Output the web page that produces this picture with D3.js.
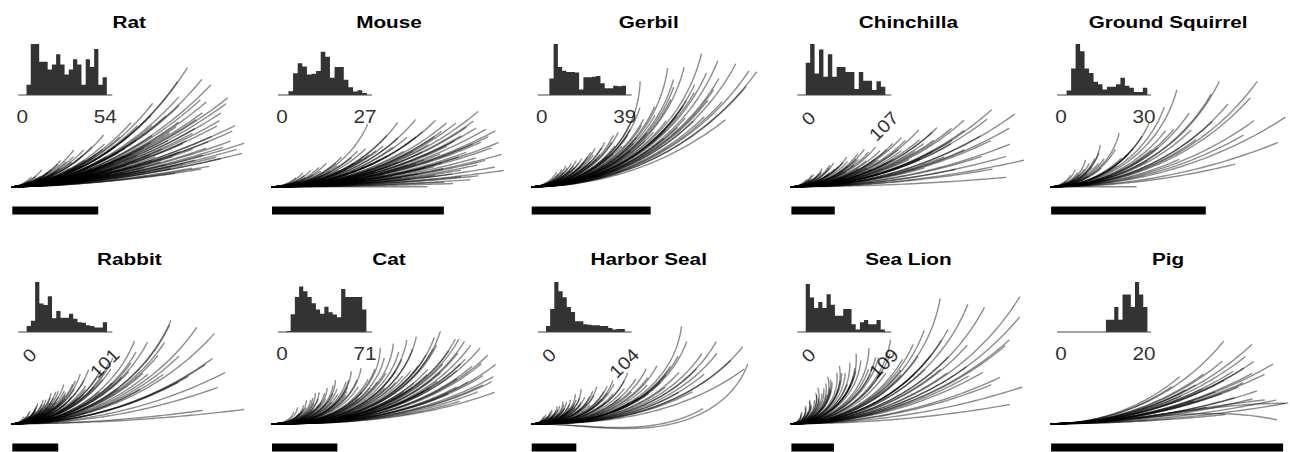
<!DOCTYPE html>
<html>
<head>
<meta charset="utf-8">
<script src="https://cdn.jsdelivr.net/npm/d3@7"></script>
<style>
  html, body { margin: 0; background: #fff; }
  svg { display: block; }
</style>
</head>
<body>
<svg id="chart" width="1290" height="452"></svg>
<script>
// ---- data -------------------------------------------------------------
const species = ["Rat", "Mouse", "Gerbil", "Chinchilla", "Ground Squirrel",
                 "Rabbit", "Cat", "Harbor Seal", "Sea Lion", "Pig"];
// longest whisker length per species (histogram range and panel width)
const lengthMax = [54, 27, 39, 107, 30, 101, 71, 104, 109, 20];
const scaleBarLength = 20;

// length histograms: first bin edge, bin width, counts
const binStart = [2.75, 2.1, 3.6, 5.6, 2.0, 5.3, 3.8, 5.4, 5.7, 10.8];
const binWidth = [2.75, 1.5, 2.0, 5.7, 1.62, 5.15, 3.6, 5.2, 5.47, 1.0];
const ratCounts = [4, 20, 20, 13, 13, 10, 12, 16, 12, 8, 10, 14, 12, 4, 14, 11, 18, 4, 7];
const mouseCounts = [1.5, 8.5, 12.5, 11.2, 8, 8.3, 9.4, 17, 15, 6.8, 11, 11, 6, 3, 1.4, 1.9, 0.8];
const gerbilCounts = [6.5, 20, 11, 9.5, 9, 9, 8.8, 2.2, 7, 7, 7.2, 7.5, 4.6, 2.6, 2.6, 3.6, 3.4, 3.6];
const chinchillaCounts = [12.6, 20, 8.4, 17.8, 7.2, 16, 7.2, 11, 11, 9, 9, 2.4, 9, 5.6, 5.6, 2, 5.4, 3.2];
const squirrelCounts = [1.8, 10.4, 20, 17.2, 10.4, 8.6, 5.2, 4.2, 2.2, 3.2, 3.2, 4.2, 6.8, 3.6, 2.8, 1.2, 1.2, 2.8];
const rabbitCounts = [2.4, 4.4, 19.6, 11.2, 10.6, 14, 5.4, 8.2, 5.6, 5.6, 7.2, 5.2, 3.8, 3.6, 2.6, 2.4, 1.8, 1.8, 3.8];
const catCounts = [0.4, 7, 13.7, 17.8, 16, 13.7, 11.3, 8.8, 7.2, 9.9, 7.7, 6.9, 5.8, 16.9, 13.7, 13.7, 13.7, 13.7, 8.8];
const sealCounts = [2.4, 9, 19.6, 16, 13.6, 9.8, 7.8, 4.2, 4.2, 3, 2.8, 2.6, 2.6, 2.4, 2.4, 1.6, 1, 1.2, 1.2];
const seaLionCounts = [18.8, 13.5, 9.4, 11.8, 9.4, 14.8, 10.7, 6.4, 6.4, 9, 9, 3, 1, 3.8, 4.7, 3, 3, 4.7, 1];
const pigCounts = [4.8, 4.8, 9.8, 4.8, 14.7, 14.7, 9.8, 19.6, 14.7, 9.8];
const histCounts = [ratCounts, mouseCounts, gerbilCounts, chinchillaCounts, squirrelCounts,
                    rabbitCounts, catCounts, sealCounts, seaLionCounts, pigCounts];

// whiskers: [arc length, tip angle in degrees]
//   or [arc length, linear bend, quadratic bend] for S-shaped / drooping ones
const ratWhiskers = [[4,30],[5,45],[6,25],[6,40],[7,20],[7,35],[8,30],[8,50],[9,22],[10,40],[10,28],[11,18],[12,35],[13,48],[13,25],[14,20],[15,38],[16,30],[17,52],[18,24],[18,40],[19,16],[20,33],[21,45],[22,28],[22,14],[23,38],[24,22],[25,50],[26,30],[27,18],[28,42],[29,26],[30,12],[31,35],[32,48],[33,22],[34,30],[35,16],[36,40],[37,11],[38,28],[39,52],[40,20],[41,34],[42,25],[43,14],[44,44],[45,30],[46,19],[47,55],[48,36],[48,24],[49,13],[50,40],[50,28],[51,58],[52,20],[52,33],[53,16],[53,46],[54,26],[55,18],[55,38],[44,9],[38,8],
  [5,20],[6,32],[7,26],[8,18],[9,36],[9,14],[10,24],[11,32],[11,12],[12,22],[12,44],[13,16],[14,30],[14,42],[15,14],[15,26],[16,20],[16,44],[17,12],[17,28],[18,34],[19,22],[19,46],[20,14],[20,26],[21,18],[21,36],[22,22],[23,12],[23,30],[24,16],[24,42],[25,24],[26,12],[26,36],[27,26],[28,16],[28,32],[29,20],[30,40],[30,24],[31,14],[32,28],[33,18],[33,44],[34,20],[35,34],[36,14],[36,24],[37,46],[38,18],[39,32],[40,13],[40,42],[41,24],[42,36],[43,20],[44,28],[45,16],[45,48],[46,34],[47,22],[48,14],[49,42],[50,18],[51,30],[52,50],[53,24],[54,36],[54,14],[46,10],[42,10]];
const mouseWhiskers = [[3,40],[4,30],[4,48],[5,20],[5,45],[6,35],[6,25],[7,46],[7,15],[8,40],[8,28],[9,20],[9,46],[10,32],[10,12],[11,45],[11,24],[12,36],[12,16],[14,66],[13,28],[14,40],[14,10],[15,22],[15,48],[16,30],[16,6],[17,18],[17,54],[18,26],[18,38],[18,0],[19,14],[19,50],[20,22],[20,34],[20,3],[21,8],[21,44],[22,18],[22,28],[23,4],[23,38],[24,24],[24,12],[25,32],[25,36],[26,20],[26,30],[27,16],[27,28],
  [3,25],[4,38],[5,32],[6,15],[6,44],[7,28],[8,10],[8,35],[9,26],[9,14],[10,40],[10,22],[11,8],[11,34],[12,26],[12,44],[13,12],[13,38],[14,20],[14,30],[15,8],[15,36],[16,18],[16,42],[17,10],[17,28],[17,40],[18,14],[18,20],[19,30],[19,8],[19,40],[20,16],[20,12],[21,26],[21,36],[21,2],[22,10],[22,40],[23,20],[23,30],[24,6],[24,34],[25,14],[25,24],[26,10],[26,40],[27,22],[27,8],[22,6],[24,16],[26,26]];
const gerbilWhiskers = [[5,50],[6,58],[6,40],[7,55],[7,45],[8,60],[8,48],[9,52],[10,58],[10,42],[11,56],[12,60],[12,46],[13,50],[14,58],[15,44],[15,62],[16,52],[17,48],[18,64],[18,40],[19,56],[20,50],[21,44],[21,66],[22,58],[23,48],[24,72],[24,40],[25,60],[26,52],[27,44],[28,88],[29,64],[29,48],[30,56],[31,70],[32,44],[33,82],[33,60],[34,52],[35,76],[35,38],[36,48],[37,66],[38,60],[39,76],[40,68],[41,50],[42,62],[43,56],[44,54],
  [5,60],[6,48],[7,62],[8,52],[9,44],[9,60],[10,50],[11,46],[12,54],[13,62],[14,44],[16,58],[17,64],[19,46],[20,60],[22,50],[23,62],[25,46],[26,66],[28,52],[30,44],[31,58],[32,74],[34,64],[36,56]];
const chinchillaWhiskers = [[8,50],[10,40],[12,56],[14,30],[15,48],[17,60],[18,36],[20,52],[22,44],[23,58],[25,34],[27,50],[28,40],[30,56],[32,30],[33,46],[35,52],[37,38],[38,24],[40,48],[42,34],[44,50],[46,28],[48,42],[50,20],[52,46],[54,36],[56,26],[58,44],[60,32],[62,16],[64,40],[66,48],[68,28],[70,36],[72,22],[74,44],[76,12],[78,32],[80,40],[82,24],[85,36],[87,42],[89,18],[91,30],[93,10],[95,26],[97,38],[99,5],[101,42],[103,22],[105,30],[108,13],[110,36],[100,16],
  [9,40],[11,58],[13,44],[16,52],[19,40],[21,58],[24,46],[26,30],[29,48],[31,38],[34,44],[36,28],[39,54],[41,36],[45,44],[49,30],[53,38],[57,48],[61,24],[65,36],[71,42],[77,30]];
const squirrelWhiskers = [[2,40],[3,60],[3,30],[4,70],[4,45],[5,55],[5,30],[6,75],[6,50],[7,40],[7,65],[8,20],[8,55],[9,80],[9,35],[10,60],[11,0],[11,45],[12,76],[13,30],[14,58],[15,40],[16,66],[17,24],[18,50],[19,70],[20,36],[21,56],[22,75],[23,44],[24,14],[25,60],[26,30],[27,64],[28,36],[29,48],[30,22],[31,54],[32,33],[26,50],
  [4,55],[5,40],[6,62],[7,52],[8,70],[10,44],[12,50],[14,40],[17,52],[20,44]];
const rabbitWhiskers = [[6,60],[8,45],[10,70],[11,50],[12,62],[13,40],[14,72],[15,55],[16,66],[17,48],[18,74],[19,58],[20,44],[21,68],[22,52],[23,76],[24,60],[25,40],[26,70],[27,56],[28,64],[29,48],[30,74],[32,58],[34,44],[35,68],[37,54],[39,72],[41,40],[43,70],[45,52],[47,62],[49,36],[51,58],[53,46],[55,66],[58,30],[60,54],[62,42],[65,60],[68,68],[70,36],[72,50],[75,28],[78,56],[80,44],[83,8],[85,64],[87,66],[89,34],[91,20],[93,36],[94,55],[96,27],[99,48],[101,7],
  [7,50],[9,66],[10,40],[12,54],[13,68],[14,46],[15,76],[17,60],[18,44],[19,70],[20,54],[22,64],[23,46],[25,72],[26,50],[28,60],[31,42],[33,66],[36,50],[38,62],[40,48],[44,58],[48,44],[52,64],[57,48],[64,40],[72,62],[80,30]];
const catWhiskers = [[8,70],[9,50],[10,80],[11,60],[12,75],[13,45],[14,85],[15,65],[16,55],[16,80],[17,70],[18,50],[18,88],[19,62],[20,75],[21,45],[22,82],[23,60],[24,70],[25,52],[26,86],[27,64],[28,40],[29,74],[30,58],[31,68],[33,50],[35,80],[37,44],[40,60],[42,34],[43,76],[44,50],[45,88],[46,40],[47,66],[48,30],[49,84],[50,54],[51,44],[52,70],[53,36],[54,60],[55,24],[56,78],[57,48],[58,17],[59,64],[60,40],[61,56],[62,30],[63,72],[64,46],[65,62],[66,26],[67,58],[68,40],[69,27],[70,50],[72,37],[66,61],
  [10,55],[12,62],[14,48],[15,78],[17,58],[19,84],[20,50],[22,66],[24,80],[26,58],[28,74],[30,48],[32,84],[34,62],[36,54],[38,70],[41,46],[43,58],[45,36],[47,52],[48,74],[50,32],[52,48],[53,80],[55,42],[57,62],[59,34],[60,70],[62,44],[63,52],[64,22],[65,40],[67,32],[68,54],[70,30],[71,44],[69,20],[58,28]];
const sealWhiskers = [[5,40],[6,70],[7,55],[8,80],[9,45],[10,75],[11,60],[12,85],[13,50],[14,70],[15,40],[16,80],[17,62],[18,48],[19,88],[20,66],[21,55],[22,78],[23,42],[24,70],[25,58],[26,85],[27,50],[28,66],[29,36],[30,88],[32,60],[34,48],[36,74],[38,55],[40,66],[42,40],[44,70],[46,52],[48,62],[50,34],[53,58],[56,46],[60,64],[63,38],[66,50],[70,56],[74,28],[80,46],[84,70],[88,83],[92,52],[95,60],[96,44],[100,36],[104,50],[78,-30,60],[108,-45,115],
  [6,50],[7,78],[8,60],[9,66],[10,50],[11,82],[12,58],[13,72],[14,50],[15,84],[16,60],[17,44],[18,76],[19,56],[20,80],[21,48],[22,62],[24,52],[26,70],[28,44],[30,62],[33,70],[35,40],[37,60],[40,50],[43,64],[45,30],[48,44],[52,70],[55,36],[58,54],[62,44],[65,62],[68,30],[72,48],[76,62],[82,40],[86,56]];
const seaLionWhiskers = [[6,80],[8,95],[10,70],[12,100],[14,85],[16,104],[18,75],[20,96],[22,88],[24,106],[26,80],[28,98],[30,90],[32,104],[34,70],[36,96],[38,86],[40,100],[42,78],[44,92],[46,64],[48,84],[50,94],[52,56],[54,76],[56,88],[58,48],[60,70],[63,60],[66,80],[69,44],[72,66],[75,52],[78,36],[81,70],[84,58],[87,30],[90,62],[93,48],[96,22],[99,80],[101,25],[103,10],[106,68],[109,40],[111,62],[112,42],[110,18],[122,50],[128,58],
  [7,90],[9,75],[11,96],[13,80],[15,100],[17,90],[19,84],[21,102],[23,78],[25,94],[27,86],[29,72],[31,96],[33,82],[35,66],[37,90],[39,74],[43,82],[47,70],[51,60],[55,74],[59,52],[64,44],[70,56],[76,40],[82,46],[88,36],[94,30]];
const pigWhiskers = [[11,34],[11.5,24],[12,40],[12.5,18],[13,30],[13.5,12],[14,36],[14.5,22],[15,6],[15.5,28],[16,40],[16,16],[16.5,32],[17,51],[17,24],[17.5,32],[18,18],[18,38],[18.5,34],[19,43],[19,26],[19.5,12],[20,30],[20.5,10],[20.2,30,-30],[19.5,30,-42],[18.5,26,-20],
  [12,28],[13.5,26],[15,20],[16.5,22],[17.5,14],[18,28]];
const whiskerSets = [ratWhiskers, mouseWhiskers, gerbilWhiskers, chinchillaWhiskers, squirrelWhiskers,
                     rabbitWhiskers, catWhiskers, sealWhiskers, seaLionWhiskers, pigWhiskers];
// how strongly the bend is concentrated toward the tip (1 = circular arc)
const bendPower = [0.7, 1, 1, 1, 1, 1, 1.5, 1.5, 1, 1];

// ---- drawing ----------------------------------------------------------
const svg = d3.select("#chart");
const FONT = "'Liberation Sans', Arial, Helvetica, sans-serif";
const colStep = 259.7, rowStep = 237, left0 = 12.3;
const panelWidth = 232;

// trace a whisker from its base, tangent horizontal at the root
function whiskerPath(w, power) {
  const L = w[0];
  const angle = w.length === 3
    ? t => (w[1] * t + w[2] * t * t) * Math.PI / 180
    : t => w[1] * Math.pow(t, power) * Math.PI / 180;
  const steps = 48, ds = L / steps;
  const pts = [[0, 0]];
  let x = 0, y = 0;
  for (let i = 0; i < steps; i++) {
    const th = angle((i + 0.5) / steps);
    x += Math.cos(th) * ds;
    y += Math.sin(th) * ds;
    pts.push([x, y]);
  }
  return pts;
}

species.forEach((name, i) => {
  const col = i % 5, row = Math.floor(i / 5);
  const bx = left0 + col * colStep;
  const oy = row * rowStep;
  const g = svg.append("g");
  const maxL = lengthMax[i];

  // title
  g.append("text")
    .attr("transform", `translate(${bx + 117},${28 + oy}) scale(1.22,1)`)
    .attr("text-anchor", "middle")
    .attr("font-family", FONT)
    .attr("font-weight", "bold")
    .attr("font-size", 17)
    .attr("fill", "#000")
    .text(name);

  // length histogram
  const hx = d3.scaleLinear().domain([0, maxL]).range([bx + 10, bx + 93]);
  const hy = d3.scaleLinear().domain([0, 20]).range([95 + oy, 44 + oy]);
  const counts = histCounts[i];
  const s0 = binStart[i], bw = binWidth[i];
  const outline = [[hx(s0), hy(0)]];
  counts.forEach((c, j) => {
    outline.push([hx(s0 + j * bw), hy(c)]);
    outline.push([hx(s0 + (j + 1) * bw), hy(c)]);
  });
  outline.push([hx(s0 + counts.length * bw), hy(0)]);
  g.append("path")
    .attr("d", d3.line()(outline) + "Z")
    .attr("fill", "#333");
  g.append("line")
    .attr("x1", bx + 6).attr("x2", bx + 100)
    .attr("y1", hy(0)).attr("y2", hy(0))
    .attr("stroke", "#444").attr("stroke-width", 1);

  // histogram range labels
  const tickVals = [0, maxL];
  const rotated = maxL >= 100;
  tickVals.forEach(v => {
    const t = g.append("text")
      .attr("font-family", FONT)
      .attr("font-size", 18)
      .attr("fill", "#333")
      .text(v);
    if (rotated) {
      t.attr("text-anchor", "end")
       .attr("transform", `translate(${hx(v) + 15.5},${119 + oy}) rotate(-45) scale(1.1,1)`);
    } else {
      t.attr("text-anchor", "middle")
       .attr("transform", `translate(${hx(v)},${123 + oy}) scale(1.15,1)`);
    }
  });

  // whiskers
  const sx = d3.scaleLinear().domain([0, maxL]).range([0, panelWidth]);
  const baseY = 186.7 + oy;
  const line = d3.line()
    .x(p => bx + sx(p[0]))
    .y(p => baseY - sx(p[1]));
  g.append("g")
    .attr("fill", "none")
    .attr("stroke", "#000")
    .attr("stroke-opacity", 0.45)
    .attr("stroke-width", 1.4)
    .attr("stroke-linecap", "round")
    .selectAll("path")
    .data(whiskerSets[i])
    .join("path")
    .attr("d", w => line(whiskerPath(w, bendPower[i])));

  // scale bar
  g.append("rect")
    .attr("x", bx)
    .attr("y", 206.5 + oy)
    .attr("width", sx(scaleBarLength))
    .attr("height", 8)
    .attr("fill", "#000");
});
</script>
</body>
</html>
